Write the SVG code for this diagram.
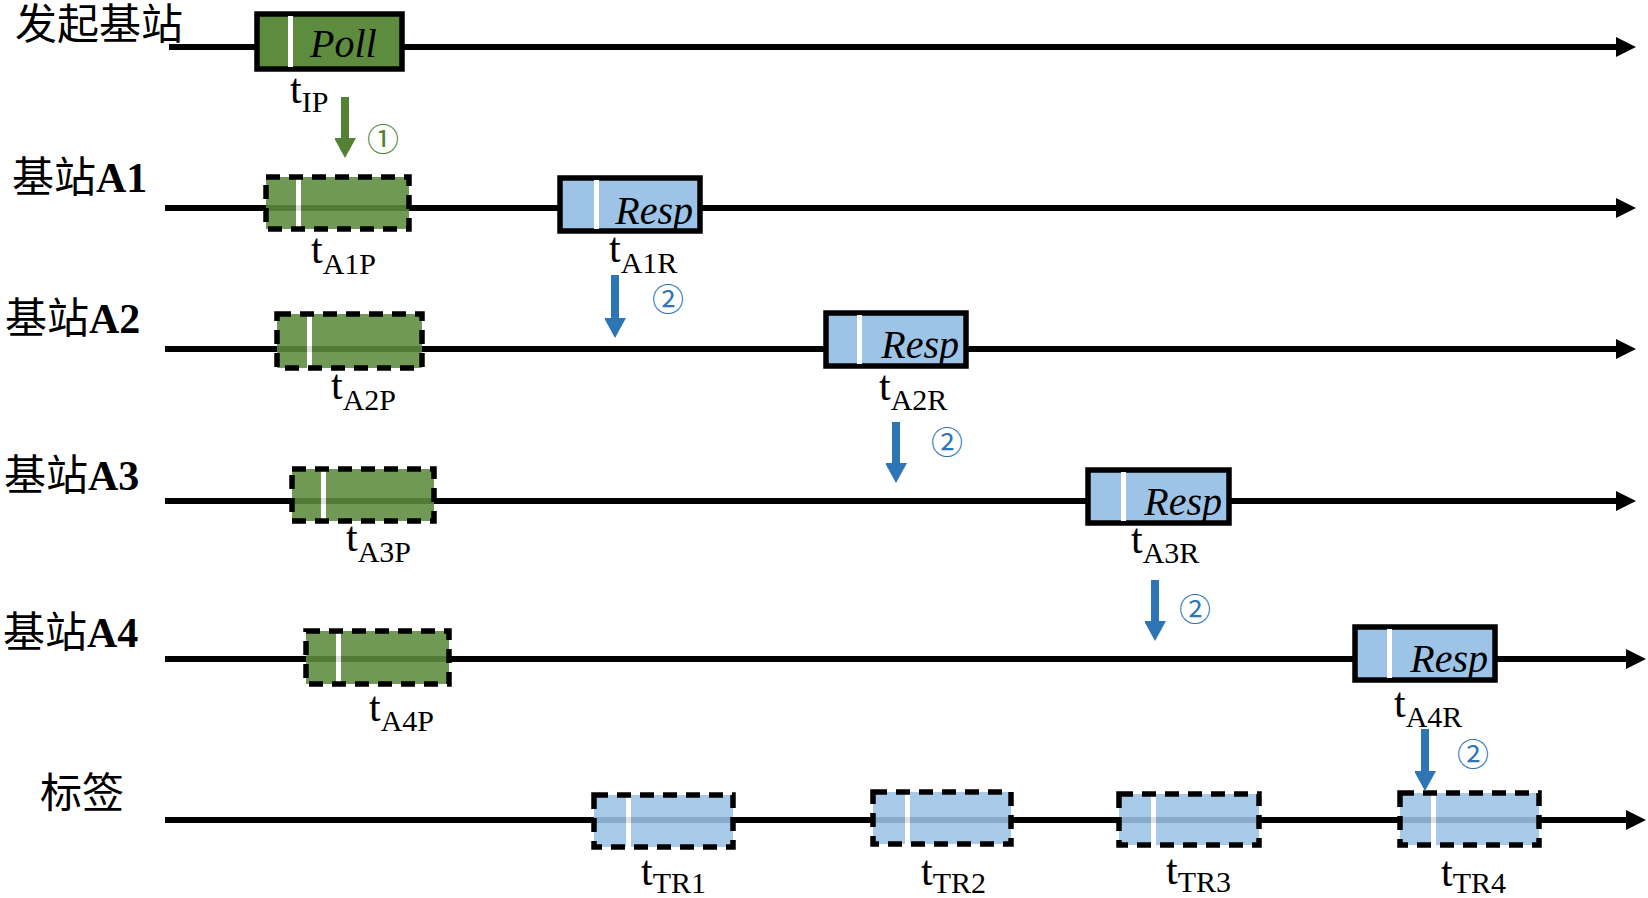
<svg xmlns="http://www.w3.org/2000/svg" width="1648" height="898" viewBox="0 0 1648 898">
<defs>
<marker id="ah" viewBox="0 0 20 20" refX="2" refY="10" markerWidth="20" markerHeight="20" markerUnits="userSpaceOnUse" orient="auto"><path d="M0,0 L20,10 L0,20 z" fill="#000"/></marker>
<marker id="ahb" viewBox="0 0 22 20" refX="2" refY="11" markerWidth="22" markerHeight="22" markerUnits="userSpaceOnUse" orient="auto"><path d="M0,0 L20,11 L0,22 z" fill="#2E75B6"/></marker>
<marker id="ahg" viewBox="0 0 22 20" refX="2" refY="11" markerWidth="22" markerHeight="22" markerUnits="userSpaceOnUse" orient="auto"><path d="M0,0 L20,11 L0,22 z" fill="#548235"/></marker>
<style>
.tl{stroke:#000;stroke-width:6;fill:none;marker-end:url(#ah)}
.lbl{font-family:"Liberation Serif","Noto Sans CJK SC",serif;font-size:42px;fill:#000}
.b{font-weight:bold}
.solidg{fill:#5E8C3F;stroke:#000;stroke-width:5.5}
.solidb{fill:#9DC3E6;stroke:#000;stroke-width:5.5}
.dfillg{fill:#5E8C3F}
.dfillb{fill:#9DC3E6}
.dash{fill:none;stroke:#000;stroke-width:5.5;stroke-dasharray:14 9}
.bar{fill:#fff}
.tr{opacity:0.88}
.msg{font-family:"Liberation Serif",serif;font-style:italic;font-size:40px;fill:#000}
.t{font-family:"Liberation Serif",serif;font-size:42px;fill:#000}
.sub{font-size:30px}
.ab{stroke:#2E75B6;stroke-width:8;fill:none;marker-end:url(#ahb)}
.ag{stroke:#548235;stroke-width:8;fill:none;marker-end:url(#ahg)}
.cb{font-family:"Noto Sans CJK SC","DejaVu Sans",sans-serif;font-size:32px;fill:#2E75B6}
.cg{font-family:"Noto Sans CJK SC","DejaVu Sans",sans-serif;font-size:32px;fill:#548235}
</style>
</defs>
<rect width="1648" height="898" fill="#fff"/>

<g id="timelines">
<line class="tl" x1="169" y1="47" x2="1618" y2="47"/>
<line class="tl" x1="165" y1="208" x2="1618" y2="208"/>
<line class="tl" x1="165" y1="349" x2="1618" y2="349"/>
<line class="tl" x1="165" y1="501" x2="1618" y2="501"/>
<line class="tl" x1="165" y1="659" x2="1628" y2="659"/>
<line class="tl" x1="165" y1="820" x2="1628" y2="820"/>
</g>

<g id="row-labels">
<text class="lbl" x="15" y="39">发起基站</text>
<text class="lbl" x="12" y="192">基站<tspan class="b">A1</tspan></text>
<text class="lbl" x="5" y="333">基站<tspan class="b">A2</tspan></text>
<text class="lbl" x="4" y="490">基站<tspan class="b">A3</tspan></text>
<text class="lbl" x="3" y="647">基站<tspan class="b">A4</tspan></text>
<text class="lbl" x="40" y="808">标签</text>
</g>

<g id="poll">
<rect class="solidg" x="257" y="14" width="145" height="55"/>
<rect class="bar" x="288" y="16" width="5" height="51"/>
<text class="msg" x="310" y="57">Poll</text>
<text class="t" x="290" y="103">t<tspan class="sub" dy="9">IP</tspan></text>
</g>

<g id="a1-poll-rx">
<g class="tr"><rect class="dfillg" x="266" y="177" width="143" height="52"/><rect class="bar" x="296" y="177" width="5" height="52"/></g>
<rect class="dash" x="266" y="177" width="143" height="52"/>
<text class="t" x="311" y="263">t<tspan class="sub" dy="11">A1P</tspan></text>
</g>
<g id="a2-poll-rx">
<g class="tr"><rect class="dfillg" x="277" y="314" width="145" height="54"/><rect class="bar" x="307" y="314" width="5" height="54"/></g>
<rect class="dash" x="277" y="314" width="145" height="54"/>
<text class="t" x="331" y="399">t<tspan class="sub" dy="11">A2P</tspan></text>
</g>
<g id="a3-poll-rx">
<g class="tr"><rect class="dfillg" x="292" y="469" width="142" height="52"/><rect class="bar" x="321" y="469" width="5" height="52"/></g>
<rect class="dash" x="292" y="469" width="142" height="52"/>
<text class="t" x="346" y="551">t<tspan class="sub" dy="11">A3P</tspan></text>
</g>
<g id="a4-poll-rx">
<g class="tr"><rect class="dfillg" x="306" y="631" width="143" height="53"/><rect class="bar" x="336" y="631" width="5" height="53"/></g>
<rect class="dash" x="306" y="631" width="143" height="53"/>
<text class="t" x="369" y="721">t<tspan class="sub" dy="10">A4P</tspan></text>
</g>

<g id="a1-resp">
<rect class="solidb" x="560" y="178" width="140" height="53"/>
<rect class="bar" x="594" y="180" width="5" height="49"/>
<text class="msg" x="693" y="224" text-anchor="end">Resp</text>
<text class="t" x="609" y="262">t<tspan class="sub" dy="11">A1R</tspan></text>
</g>
<g id="a2-resp">
<rect class="solidb" x="826" y="313" width="140" height="53"/>
<rect class="bar" x="857" y="315" width="5" height="49"/>
<text class="msg" x="959" y="358" text-anchor="end">Resp</text>
<text class="t" x="879" y="400">t<tspan class="sub" dy="10">A2R</tspan></text>
</g>
<g id="a3-resp">
<rect class="solidb" x="1088" y="470" width="141" height="53"/>
<rect class="bar" x="1121" y="472" width="5" height="49"/>
<text class="msg" x="1222" y="515" text-anchor="end">Resp</text>
<text class="t" x="1131" y="553">t<tspan class="sub" dy="10">A3R</tspan></text>
</g>
<g id="a4-resp">
<rect class="solidb" x="1355" y="627" width="140" height="53"/>
<rect class="bar" x="1387" y="629" width="5" height="49"/>
<text class="msg" x="1488" y="672" text-anchor="end">Resp</text>
<text class="t" x="1394" y="717">t<tspan class="sub" dy="10">A4R</tspan></text>
</g>

<g id="tag-rx1">
<g class="tr"><rect class="dfillb" x="594" y="795" width="139" height="52"/><rect class="bar" x="626" y="795" width="5" height="52"/></g>
<rect class="dash" x="594" y="795" width="139" height="52"/>
<text class="t" x="641" y="885">t<tspan class="sub" dy="8">TR1</tspan></text>
</g>
<g id="tag-rx2">
<g class="tr"><rect class="dfillb" x="873" y="792" width="138" height="52"/><rect class="bar" x="905" y="792" width="5" height="52"/></g>
<rect class="dash" x="873" y="792" width="138" height="52"/>
<text class="t" x="921" y="885">t<tspan class="sub" dy="8">TR2</tspan></text>
</g>
<g id="tag-rx3">
<g class="tr"><rect class="dfillb" x="1119" y="794" width="140" height="51"/><rect class="bar" x="1151" y="794" width="5" height="51"/></g>
<rect class="dash" x="1119" y="794" width="140" height="51"/>
<text class="t" x="1166" y="884">t<tspan class="sub" dy="8">TR3</tspan></text>
</g>
<g id="tag-rx4">
<g class="tr"><rect class="dfillb" x="1400" y="793" width="139" height="52"/><rect class="bar" x="1431" y="793" width="5" height="52"/></g>
<rect class="dash" x="1400" y="793" width="139" height="52"/>
<text class="t" x="1441" y="886">t<tspan class="sub" dy="7">TR4</tspan></text>
</g>

<g id="connectors">
<line class="ag" x1="345" y1="97" x2="345" y2="140"/>
<text class="cg" x="383" y="151" text-anchor="middle">①</text>
<line class="ab" x1="615" y1="275" x2="615" y2="320"/>
<text class="cb" x="668" y="311" text-anchor="middle">②</text>
<line class="ab" x1="896" y1="422" x2="896" y2="465"/>
<text class="cb" x="947" y="454" text-anchor="middle">②</text>
<line class="ab" x1="1155" y1="580" x2="1155" y2="623"/>
<text class="cb" x="1195" y="621" text-anchor="middle">②</text>
<line class="ab" x1="1425" y1="729" x2="1425" y2="773"/>
<text class="cb" x="1473" y="766" text-anchor="middle">②</text>
</g>
</svg>
